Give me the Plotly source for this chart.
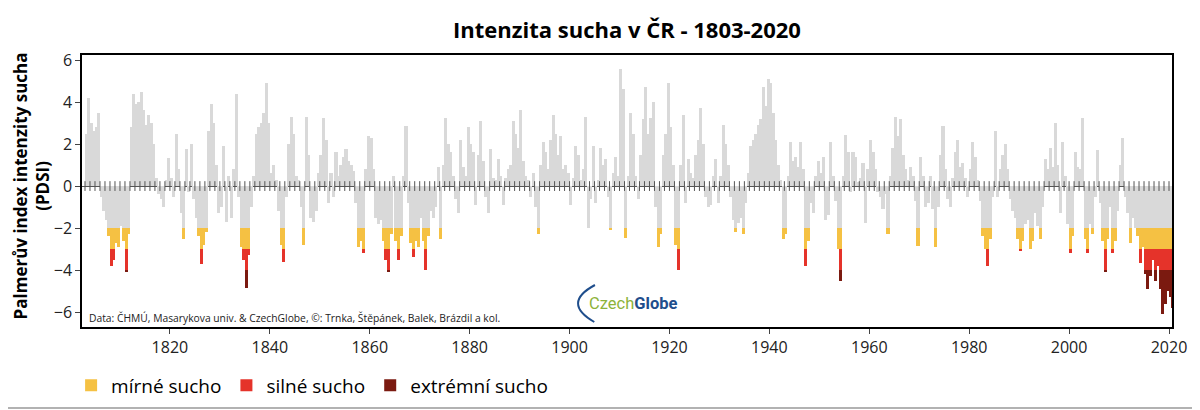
import numpy as np
import plotly.graph_objects as go

# %% Data: PDSI, two values per year (first / second half)
years = list(range(1803, 2021))

pdsi_1803_1852 = [
    2.5, 4.2, 3.0, 2.6, 2.8, 3.5, -0.5, -1.2, -1.6, -2.4,
    -3.8, -3.5, -2.7, -2.9, -1.9, -2.6, -4.1, -2.3, 2.8, 4.4,
    3.9, 4.0, 4.5, 3.6, 2.9, 3.4, 3.0, 2.0, 0.4, -0.4,
    -0.6, -1.0, 0.3, 1.35, 0.4, -0.5, 2.5, 0.8, -1.3, -2.5,
    1.75, -0.3, 2.0, -0.6, -1.5, -2.4, -3.7, -2.8, -2.2, 2.6,
    3.9, 3.0, 1.0, -1.3, -1.0, 1.9, -1.7, 0.5, -1.5, 0.8,
    4.4, -0.5, -2.9, -3.5, -4.85, -3.3, -1.0, 0.5, 2.5, 2.8,
    3.0, 3.5, 4.9, 3.0, 0.6, 1.0, 0.3, -1.2, -2.8, -3.6,
    -0.5, 2.0, 3.3, 2.5, 0.5, 0.3, -1.0, -2.8, 3.3, 1.5,
    -1.5, -1.7, -1.2, 0.6, 1.5, 3.25, 2.2, -0.8, 0.6, -0.5,
]
pdsi_1853_1902 = [
    1.6, 0.5, 1.0, 1.4, 1.75, 1.2, 1.0, 0.7, -0.8, -2.9,
    -2.6, -3.2, 0.8, 2.4, 2.3, 0.8, -1.5, -1.8, -1.6, -2.6,
    -3.5, -4.1, -2.3, 0.5, -2.6, -3.5, -2.4, 0.5, 2.85, -0.8,
    -2.7, -3.4, -2.6, -2.9, -1.5, -2.6, -4.0, -2.4, -1.2, -1.5,
    -1.0, 0.9, -2.5, 1.0, 3.25, 2.0, 1.6, 0.5, -0.6, -1.3,
    2.2, 0.9, 0.5, 2.8, 2.0, 1.6, -0.9, 1.5, 3.1, 1.2,
    -0.5, -1.3, 1.75, 0.4, 0.3, 1.3, 0.5, -0.9, 0.4, 0.8,
    1.0, 3.1, 2.5, 1.8, 3.6, 1.2, 0.5, 0.3, -0.5, 0.6,
    -1.0, -2.3, 1.0, 2.1, 1.6, 0.8, 2.2, 3.4, 2.5, 1.5,
    2.4, 0.8, 1.0, 0.6, -0.9, 0.4, 1.9, 1.5, 0.3, 0.8,
]
pdsi_1903_1952 = [
    3.3, -2.0, -0.6, 1.9, -0.8, 0.3, 1.8, 1.0, 1.3, -0.5,
    -2.1, 0.6, 1.4, 0.5, 5.55, 4.6, -2.45, 0.5, 3.5, 2.5,
    0.5, -0.6, 1.5, 3.2, 4.7, 2.5, 3.25, 4.0, -1.0, -2.9,
    -2.3, 1.5, 2.5, 4.9, 2.8, 1.0, -2.8, -4.0, 1.0, 3.4,
    -0.8, 1.3, 0.6, 0.4, 1.5, 2.2, 3.7, 2.0, -0.5, -1.0,
    -0.9, 0.5, 1.3, -0.8, 0.5, 2.9, 2.0, 1.0, -0.5, -1.6,
    -2.2, -1.75, -1.5, -2.3, -0.8, 0.6, 1.9, 2.2, 2.5, 2.9,
    3.2, 4.7, 3.8, 5.1, 4.9, 3.5, 2.2, 1.0, 0.3, -2.5,
    -2.3, 0.5, 2.1, 1.2, 1.4, 0.9, 2.1, 0.8, -3.8, -2.6,
    -0.8, -1.3, 0.5, 1.2, 0.6, 1.4, -1.6, -1.4, 2.1, 0.5,
]
pdsi_1953_2020 = [
    -0.7, -3.0, -4.5, 0.5, 2.45, 1.6, -0.3, 1.6, 1.4, 0.2,
    0.4, 1.1, -1.75, 0.8, 2.2, 1.6, 0.8, -0.3, -0.5, -1.1,
    -0.4, -2.3, 0.5, 1.8, 3.3, 2.4, 3.2, 1.5, 0.8, 0.3,
    0.9, 0.5, -0.7, -2.85, 1.4, 0.5, -1.0, -0.8, 0.5, -1.1,
    -2.9, -1.0, 1.5, 2.85, 0.8, -0.6, -1.0, 0.4, 1.6, 2.2,
    0.9, 1.1, 0.4, -0.5, 0.8, 2.1, 1.4, 0.3, -0.7, -2.4,
    -3.0, -3.8, -2.5, -0.5, 2.6, -0.5, 0.8, 1.5, 2.0, 0.8,
    -0.6, -1.2, -1.5, -2.5, -3.1, -2.6, -1.8, -1.6, -3.0, -2.6,
    -1.3, -1.9, -2.5, -1.0, 1.3, 0.8, 1.8, 0.9, 3.0, 1.0,
    -1.3, 2.1, 0.5, -1.8, -3.2, -2.4, 1.6, 0.9, 0.8, 3.25,
    -2.5, -3.2, -1.8, -2.3, -0.5, 1.7, -0.8, -2.6, -4.1, -2.5,
    -1.0, -3.2, -2.6, -1.2, 1.0, 2.3, -0.5, -1.3, -2.7, -1.5,
    -2.0, -2.4, -3.65, -2.9, -4.2, -4.9, -4.3, -3.5, -4.5, -3.8,
    -4.9, -6.1, -5.6, -5.0, -5.3, -5.8,
]

legend_names = ['mírné sucho', 'silné sucho', 'extrémní sucho']
drought_colors = ['#f5c143', '#e5332a', '#7b1a10']
drought_levels = [-2, -3, -4]

pdsi = np.array(pdsi_1803_1852 + pdsi_1853_1902 + pdsi_1903_1952 + pdsi_1953_2020)
t = np.array([y + h for y in years for h in (0.25, 0.75)])

# %% Split bars into the drought classes
gray = np.maximum(pdsi, -2)
fig = go.Figure()
fig.add_trace(go.Bar(x=t, y=gray, width=0.62, marker=dict(color='#d9d9d9', line=dict(width=0)),
                     showlegend=False, hoverinfo='skip'))

bounds = drought_levels + [-99]
for i, name in enumerate(legend_names):
    top, bottom = bounds[i], bounds[i + 1]
    seg = np.where(pdsi < top, np.maximum(pdsi, bottom) - top, np.nan)
    fig.add_trace(go.Bar(x=t, y=seg, base=top, width=0.62, name=name,
                         marker=dict(color=drought_colors[i], line=dict(width=0))))

# yearly ticks on the zero line
fig.add_trace(go.Scatter(x=years, y=[0] * len(years), mode='markers', showlegend=False, hoverinfo='skip',
                         marker=dict(symbol='line-ns', size=7, line=dict(width=1, color='#555'))))

fig.update_xaxes(range=[1802.4, 2020.6], tickvals=list(range(1820, 2021, 20)), ticks='outside', ticklen=5,
                 showline=True, linecolor='black', linewidth=1.5, mirror=True, showgrid=False, zeroline=False,
                 tickfont=dict(size=16, color='#222'), automargin=False)
fig.update_yaxes(range=[-6.71, 6.24], tickvals=list(range(-6, 7, 2)), ticks='outside', ticklen=5,
                 showline=True, linecolor='black', linewidth=1.5, mirror=True, showgrid=False,
                 zeroline=True, zerolinecolor='#555', zerolinewidth=1,
                 tickfont=dict(size=16, color='#222'), automargin=False)

# y axis title (two bold lines)
fig.add_annotation(text='<b>Palmerův index intenzity sucha<br>(PDSI)</b>', textangle=-90,
                   xref='paper', yref='paper', x=-0.0465, y=0.518, xanchor='center', yanchor='middle',
                   showarrow=False, font=dict(size=17, color='black'))

fig.add_annotation(text='Data: ČHMÚ, Masarykova univ. & CzechGlobe, ©: Trnka, Štěpánek, Balek, Brázdil a kol.',
                   xref='paper', yref='paper', x=0.005, y=0.033, xanchor='left', yanchor='middle',
                   showarrow=False, font=dict(size=10.3, color='#222'))

# CzechGlobe logo
fig.add_annotation(text="<span style='color:#8db33a'>Czech</span><b><span style='color:#1f4e8c'>Globe</span></b>",
                   xref='paper', yref='paper', x=0.5055, y=0.088, xanchor='center', yanchor='middle',
                   showarrow=False, font=dict(size=16.5, family='Roboto'))
fig.add_shape(type='path', xref='paper', yref='paper', path='M 0.4706,0.1544 Q 0.4399,0.0882 0.4700,0.0184',
              line=dict(color='#1f4e8c', width=2))

# bottom frame line
fig.add_shape(type='line', xref='paper', yref='paper', x0=-0.08, x1=1.03, y0=-0.2978, y1=-0.2978,
              line=dict(color='#999', width=1.5))

fig.update_layout(
    title=dict(text='<b>Intenzita sucha v ČR - 1803-2020</b>', xref='paper', x=0.5, xanchor='center',
               y=0.945, yanchor='middle', font=dict(size=22, color='black')),
    barmode='overlay',
    bargap=0,
    width=1192,
    height=402,
    margin=dict(l=74, r=28, t=47, b=83, autoexpand=False),
    plot_bgcolor='white',
    paper_bgcolor='white',
    font=dict(family='Open Sans'),
    legend=dict(orientation='h', x=-0.010, y=-0.215, xanchor='left', yanchor='middle',
                font=dict(size=19, color='black'), traceorder='normal'),
)

fig.write_html('out.html')
